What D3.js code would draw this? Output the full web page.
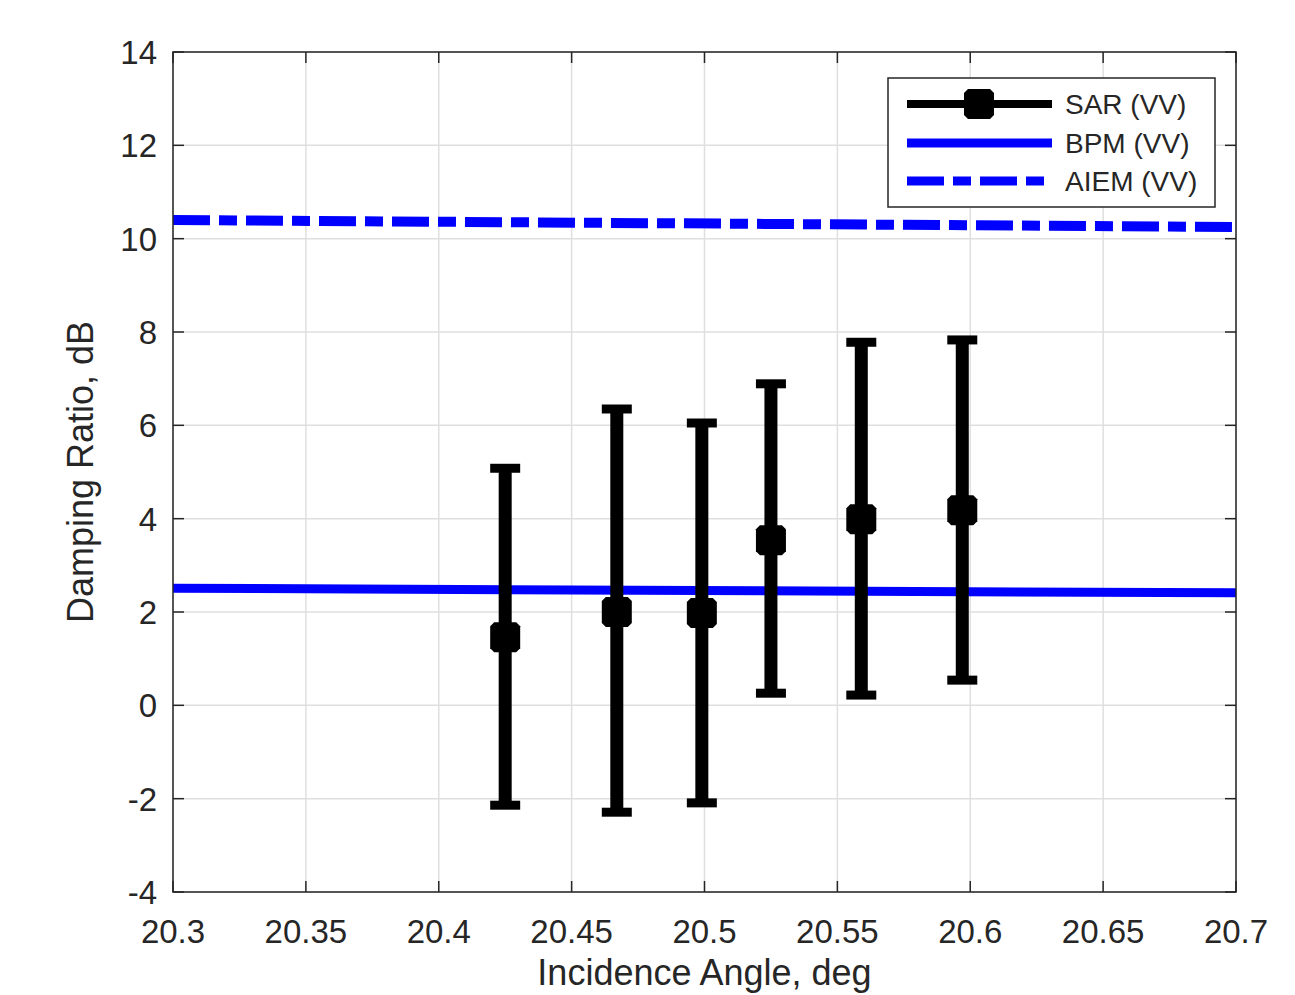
<!DOCTYPE html>
<html>
<head>
<meta charset="utf-8">
<script src="https://cdn.jsdelivr.net/npm/d3@7"></script>
<style>
  body { margin: 0; background: #fff; }
  text { font-family: "Liberation Sans", Arial, sans-serif; fill: #262626; }
</style>
</head>
<body>
<div id="plot_area"></div>
<script>
// chart size
const w = 1295;
const h = 995;
const margin = {left: 173, right: 59, top: 52, bottom: 103};

// SAR (VV) measurements with error bars
const sarAngle = [20.425, 20.467, 20.499, 20.525, 20.559, 20.597];
const sarMean  = [1.46, 2.00, 1.98, 3.54, 3.99, 4.18];
const sarLow   = [-2.14, -2.29, -2.09, 0.26, 0.22, 0.54];
const sarHigh  = [5.08, 6.35, 6.05, 6.89, 7.78, 7.83];

// model lines
const modelAngle = [20.3, 20.7];
const bpmValues  = [2.51, 2.41];
const aiemValues = [10.40, 10.25];

// ticks
const xTicks = [20.3, 20.35, 20.4, 20.45, 20.5, 20.55, 20.6, 20.65, 20.7];
const yTicks = [-4, -2, 0, 2, 4, 6, 8, 10, 12, 14];
const legendLabels = ['SAR (VV)', 'BPM (VV)', 'AIEM (VV)'];

const xScale = d3.scaleLinear()
                .domain([20.3, 20.7])
                .range([margin.left, w - margin.right]);

const yScale = d3.scaleLinear()
                .domain([-4, 14])
                .range([h - margin.bottom, margin.top]);

const svg = d3.select('#plot_area')
              .append('svg')
              .attr('width', w)
              .attr('height', h);

const x0 = margin.left, x1 = w - margin.right;
const y0 = margin.top, y1 = h - margin.bottom;

svg.append('defs').append('clipPath').attr('id', 'clip')
   .append('rect').attr('x', x0).attr('y', y0).attr('width', x1 - x0).attr('height', y1 - y0);

// grid
svg.append('g')
   .selectAll('line')
   .data(xTicks)
   .join('line')
   .attr('x1', d => xScale(d)).attr('x2', d => xScale(d))
   .attr('y1', y0).attr('y2', y1)
   .attr('stroke', '#dfdfdf').attr('stroke-width', 1.5);

svg.append('g')
   .selectAll('line')
   .data(yTicks)
   .join('line')
   .attr('x1', x0).attr('x2', x1)
   .attr('y1', d => yScale(d)).attr('y2', d => yScale(d))
   .attr('stroke', '#dfdfdf').attr('stroke-width', 1.5);

const plot = svg.append('g').attr('clip-path', 'url(#clip)');

// model lines
const line = d3.line()
               .x((d, i) => xScale(modelAngle[i]))
               .y(d => yScale(d));

plot.append('path')
    .datum(bpmValues)
    .attr('stroke', '#0000ff')
    .attr('stroke-width', 9)
    .attr('fill', 'none')
    .attr('d', line);

plot.append('path')
    .datum(aiemValues)
    .attr('stroke', '#0000ff')
    .attr('stroke-width', 10)
    .attr('stroke-dasharray', '37,9,18,9')
    .attr('fill', 'none')
    .attr('d', line);

// error bars
const sar = sarAngle.map((a, i) => ({a: a, m: sarMean[i], lo: sarLow[i], hi: sarHigh[i]}));
const eb = plot.append('g').selectAll('g').data(sar).join('g');

eb.append('line')
  .attr('x1', d => xScale(d.a)).attr('x2', d => xScale(d.a))
  .attr('y1', d => yScale(d.lo)).attr('y2', d => yScale(d.hi))
  .attr('stroke', 'black').attr('stroke-width', 13);

eb.selectAll('line.cap')
  .data(d => [[d.a, d.lo], [d.a, d.hi]])
  .join('line')
  .attr('class', 'cap')
  .attr('x1', d => xScale(d[0]) - 15).attr('x2', d => xScale(d[0]) + 15)
  .attr('y1', d => yScale(d[1])).attr('y2', d => yScale(d[1]))
  .attr('stroke', 'black').attr('stroke-width', 9);

// octagon-ish square marker
function marker(cx, cy) {
  const s = 15, c = 4;
  return 'M' + (cx - s + c) + ',' + (cy - s) + 'L' + (cx + s - c) + ',' + (cy - s) +
         'L' + (cx + s) + ',' + (cy - s + c) + 'L' + (cx + s) + ',' + (cy + s - c) +
         'L' + (cx + s - c) + ',' + (cy + s) + 'L' + (cx - s + c) + ',' + (cy + s) +
         'L' + (cx - s) + ',' + (cy + s - c) + 'L' + (cx - s) + ',' + (cy - s + c) + 'Z';
}

eb.append('path')
  .attr('d', d => marker(xScale(d.a), yScale(d.m)))
  .attr('fill', 'black');

// axes box
svg.append('rect')
   .attr('x', x0).attr('y', y0)
   .attr('width', x1 - x0).attr('height', y1 - y0)
   .attr('fill', 'none').attr('stroke', '#262626').attr('stroke-width', 1.5);

// inward ticks on all sides
const tickLen = 11;
const tk = svg.append('g').attr('stroke', '#262626').attr('stroke-width', 1.5);
xTicks.forEach(t => {
  tk.append('line').attr('x1', xScale(t)).attr('x2', xScale(t)).attr('y1', y1).attr('y2', y1 - tickLen);
  tk.append('line').attr('x1', xScale(t)).attr('x2', xScale(t)).attr('y1', y0).attr('y2', y0 + tickLen);
});
yTicks.forEach(t => {
  tk.append('line').attr('x1', x0).attr('x2', x0 + tickLen).attr('y1', yScale(t)).attr('y2', yScale(t));
  tk.append('line').attr('x1', x1).attr('x2', x1 - tickLen).attr('y1', yScale(t)).attr('y2', yScale(t));
});

// tick labels
svg.append('g')
   .selectAll('text')
   .data(xTicks)
   .join('text')
   .attr('x', d => xScale(d))
   .attr('y', y1 + 51)
   .attr('text-anchor', 'middle')
   .style('font-size', '33px')
   .text(d => d3.format('')(d));

svg.append('g')
   .selectAll('text')
   .data(yTicks)
   .join('text')
   .attr('x', x0 - 16)
   .attr('y', d => yScale(d) + 12)
   .attr('text-anchor', 'end')
   .style('font-size', '33px')
   .text(d => d);

// axis labels
svg.append('text')
   .attr('x', (x0 + x1) / 2)
   .attr('y', 985)
   .attr('text-anchor', 'middle')
   .style('font-size', '36px')
   .text('Incidence Angle, deg');

svg.append('text')
   .attr('transform', 'translate(93,' + ((y0 + y1) / 2) + ') rotate(-90)')
   .attr('text-anchor', 'middle')
   .style('font-size', '36px')
   .text('Damping Ratio, dB');

// legend
const lg = svg.append('g');
lg.append('rect')
  .attr('x', 888).attr('y', 78).attr('width', 327).attr('height', 129)
  .attr('fill', 'white').attr('stroke', '#262626').attr('stroke-width', 1.5);

const rowY = [104, 143, 181];
lg.append('line').attr('x1', 907).attr('x2', 1052).attr('y1', rowY[0]).attr('y2', rowY[0])
  .attr('stroke', 'black').attr('stroke-width', 8);
lg.append('path').attr('d', marker(979, rowY[0])).attr('fill', 'black');
lg.append('line').attr('x1', 907).attr('x2', 1052).attr('y1', rowY[1]).attr('y2', rowY[1])
  .attr('stroke', '#0000ff').attr('stroke-width', 9);
lg.append('line').attr('x1', 907).attr('x2', 1052).attr('y1', rowY[2]).attr('y2', rowY[2])
  .attr('stroke', '#0000ff').attr('stroke-width', 9).attr('stroke-dasharray', '37,9,18,9');

lg.selectAll('text.lab')
  .data(legendLabels)
  .join('text')
  .attr('class', 'lab')
  .attr('x', 1065)
  .attr('y', (d, i) => rowY[i] + 10)
  .style('font-size', '28px')
  .text(d => d);
</script>
</body>
</html>
